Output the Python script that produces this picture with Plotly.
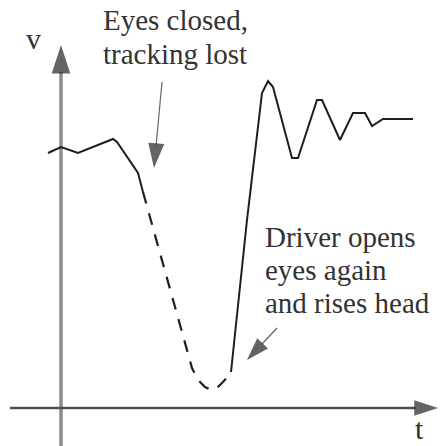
#!/usr/bin/env python3
# Sketch of driver gaze tracking: velocity v over time t, with a lost-tracking dip.
import plotly.graph_objects as go

# --- curve data (t, v); origin sits at the axes crossing
t_before = [-13, 0, 17, 36, 52, 56, 67, 77, 82]
v_before = [255, 261, 255, 263, 269, 266, 250, 235, 216]

# tracking lost (eyes closed) -> drawn dashed
t_lost = [82, 131, 137, 144, 150, 156, 162, 168]
v_lost = [216, 40, 28, 21, 18, 20, 26, 33]

# driver opens eyes again, overshoot and settle
t_after = [170, 186, 201, 207, 212, 231, 237, 256, 261, 279, 292, 304, 311, 322, 352]
v_after = [36, 188, 315, 327, 321, 250, 250, 308, 308, 268, 295, 295, 282, 289, 289]

# axis extents
T_MIN, T_MAX = -51, 377
V_MIN, V_MAX = -40, 363

# pointer arrows: (tail t, tail v, tip t, tip v)
ptr_closed = (101, 326, 93, 240)
ptr_opens = (216, 80, 186, 48)

# label lines: (text, t, v)
labels_closed = [("Eyes closed,", 40, 388), ("tracking lost", 40, 354)]
labels_opens = [("Driver opens", 202, 171), ("eyes again", 202, 138), ("and rises head", 202, 105)]

SERIF = "Liberation Serif, Times New Roman, serif"
INK = "#1e1e1e"

fig = go.Figure()


def arrow(x0, y0, x1, y1, color, width, head, head_color=None):
    fig.add_trace(go.Scatter(
        x=[x0, x1], y=[y0, y1], mode="lines+markers",
        line=dict(color=color, width=width),
        marker=dict(symbol="arrow", size=[0, head], angleref="previous",
                    color=head_color or color, line=dict(width=0)),
        hoverinfo="skip", showlegend=False))


# axes
arrow(0, V_MIN, 0, V_MAX, "#8c8c8c", 3.5, 30, "#222")
arrow(T_MIN, 0, T_MAX, 0, "#505050", 2.5, 25, "#222")

# curve
fig.add_trace(go.Scatter(x=t_before, y=v_before, mode="lines",
                         line=dict(color=INK, width=2), showlegend=False))
fig.add_trace(go.Scatter(x=t_lost, y=v_lost, mode="lines",
                         line=dict(color=INK, width=2.2, dash="12px,10px"), showlegend=False))
fig.add_trace(go.Scatter(x=t_after, y=v_after, mode="lines",
                         line=dict(color=INK, width=2), showlegend=False))

# pointers
arrow(*ptr_closed, "#666", 1.2, 26, "#222")
arrow(*ptr_opens, "#666", 1.2, 24, "#222")

for text, x, y in labels_closed + labels_opens:
    fig.add_annotation(x=x, y=y, text=text, showarrow=False, xanchor="left", yanchor="middle",
                       font=dict(family=SERIF, size=29, color="#333"))

fig.add_annotation(x=-28, y=370, text="v", showarrow=False,
                   font=dict(family=SERIF, size=30, color="#333"))
fig.add_annotation(x=358, y=-20, text="t", showarrow=False,
                   font=dict(family=SERIF, size=30, color="#333"))

fig.update_layout(
    width=440, height=446,
    margin=dict(l=0, r=0, t=0, b=0),
    paper_bgcolor="white", plot_bgcolor="white",
    xaxis=dict(range=[-61, 379], visible=False, fixedrange=True),
    yaxis=dict(range=[-38, 408], visible=False, fixedrange=True),
)

# the page body has a default 8px margin; drop it so the figure fills the window
fig.write_html("out.html", config={"displayModeBar": False},
               post_script="document.body.style.margin='0';document.body.style.overflow='hidden';")
